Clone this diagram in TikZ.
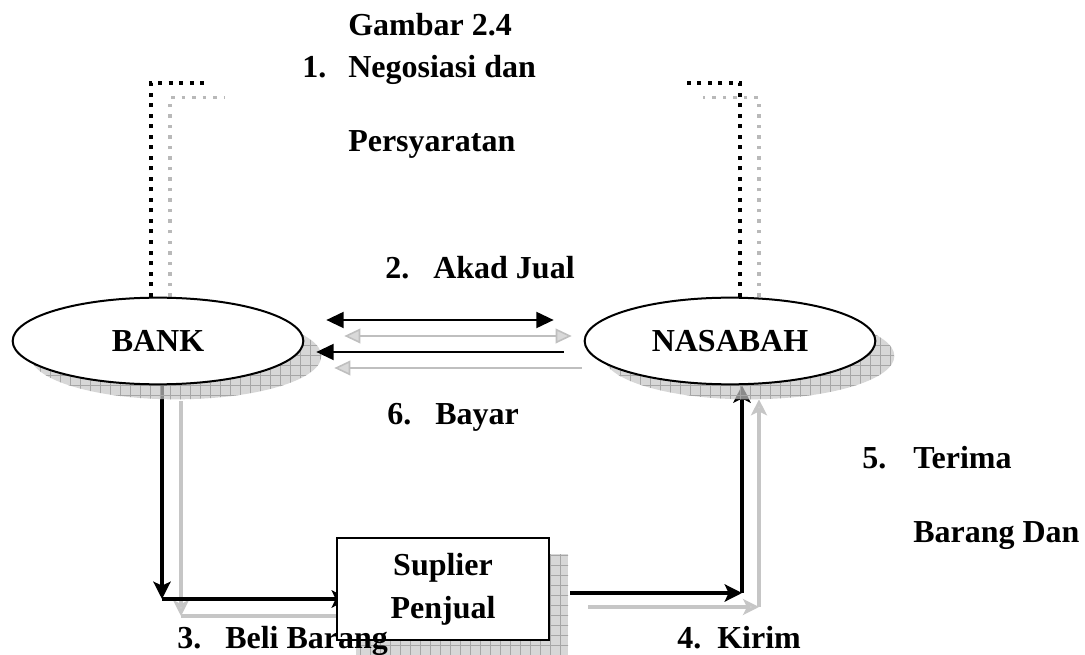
\documentclass[tikz,border=0pt]{standalone}
\usepackage{fontspec}
\setmainfont{Liberation Serif}
\usetikzlibrary{shapes.geometric,arrows.meta,patterns.meta,backgrounds}

\newcommand{\numitem}[3]{\makebox[#1][l]{#2}#3}

\begin{document}
\begin{tikzpicture}[
        x=0.75pt, y=-0.75pt,
        font=\fontsize{24}{32}\selectfont\bfseries,
        oval/.style={ellipse, draw, line width=1.5pt, fill=white, minimum width=218pt, minimum height=65pt, inner sep=0pt},
        box/.style={rectangle, draw, line width=1.5pt, fill=white, minimum width=159pt, minimum height=76.5pt, align=center, inner sep=0pt},
        dropfill/.style={draw=none, fill=gray!45, fill opacity=0.7,
            postaction={pattern={Lines[distance=7.5pt,angle=0,line width=.3pt]}, pattern color=gray!70},
            postaction={pattern={Lines[distance=7.5pt,angle=90,line width=.3pt]}, pattern color=gray!70}},
        heavy/.style={line width=3pt, -{Stealth[length=13pt,width=13pt,inset=3pt]}},
        light/.style={line width=3pt, gray!45, -{Stealth[length=12pt,width=12pt,inset=3pt,fill=gray!35]}},
        twoway/.style={line width=1.5pt, {Triangle[length=13pt,width=12pt]}-{Triangle[length=13pt,width=12pt]}},
        twowaygrey/.style={line width=1.2pt, gray!50, {Triangle[length=12pt,width=11pt,fill=gray!30]}-{Triangle[length=12pt,width=11pt,fill=gray!30]}},
        back/.style={line width=1.5pt, -{Triangle[length=13pt,width=12pt]}},
        backgrey/.style={line width=1.2pt, gray!50, -{Triangle[length=12pt,width=11pt,fill=gray!30]}},
        dots/.style={line width=3pt, dash pattern=on 3pt off 4.9pt},
        greydots/.style={line width=2.6pt, gray!55, dash pattern=on 2.6pt off 5.3pt},
        item/.style={anchor=base west, inner sep=0pt}
    ]
        \useasboundingbox (0,0) rectangle (1085,655);

        % Parties
        \node[oval] (bank) at (158,341) {BANK};
        \node[oval] (nasabah) at (730,341) {NASABAH};
        \node[box] (supplier) at (443,589) {Suplier\\Penjual};

        % Labels
        \node[item] (title) at (348,36) {Gambar 2.4};
        \node[item] (lbl1) at (302,78) {\numitem{34.5pt}{1.}{Negosiasi dan}};
        \node[item] (lbl1b) at (348,152) {Persyaratan};
        \node[item] (lbl2) at (385,279) {\numitem{36pt}{2.}{Akad Jual}};
        \node[item] (lbl6) at (387,425) {\numitem{36pt}{6.}{Bayar}};
        \node[item] (lbl5) at (862,469) {\numitem{38.25pt}{5.}{Terima}};
        \node[item] (lbl5b) at (913,542) {Barang Dan};
        \node[item] (lbl3) at (177,648) {\numitem{36pt}{3.}{Beli Barang}};
        \node[item] (lbl4) at (677,648) {\numitem{30pt}{4.}{Kirim}};

        % Corners
        \coordinate (lcorner) at (162,599);
        \coordinate (lgcorner) at (181,616);
        \coordinate (rcorner) at (742,593);
        \coordinate (rgcorner) at (759,607);

        \begin{scope}[on background layer]
            % Negotiation (dotted)
            \draw[dots] ([xshift=-5.25pt]bank.north) -- ++(0,-214) -- ++(56,0);
            \draw[greydots] ([xshift=9pt]bank.north) -- ++(0,-199) -- ++(55,0);
            \draw[dots] ([xshift=7.5pt]nasabah.north) -- ++(0,-214) -- ++(-55,0);
            \draw[greydots] ([xshift=21.75pt]nasabah.north) -- ++(0,-199) -- ++(-56,0);

            % Buy goods
            \draw[light] ([shift={(23,16)}]bank.south) -- (lgcorner);
            \draw[light] (lgcorner) -- ([shift={(32,27)}]supplier.west);
            \draw[heavy] ([xshift=3pt]bank.south) -- (lcorner);
            \draw[heavy] (lcorner) -- ([shift={(13,10)}]supplier.west);

            % Deliver and receive
            \draw[light] ([shift={(38,18)}]supplier.east) -- (rgcorner);
            \draw[light] (rgcorner) -- ([shift={(29,14)}]nasabah.south);
            \draw[heavy] ([shift={(20,4)}]supplier.east) -- (rcorner);
            \draw[heavy] (rcorner) -- ([xshift=9pt]nasabah.south);

            % Shadows
            \node[oval, dropfill] (bankshade) at ([shift={(18,15)}]bank.center) {};
            \node[oval, dropfill] (nasabahshade) at ([shift={(19,15)}]nasabah.center) {};
            \node[box, dropfill] (suppliershade) at ([shift={(19,16)}]supplier.center) {};
        \end{scope}

        % Contract and payment
        \draw[twoway] ([shift={(22,-21)}]bank.east) -- ([shift={(-30,-21)}]nasabah.west);
        \draw[twowaygrey] ([shift={(40,-5)}]bank.east) -- ([shift={(-12,-5)}]nasabah.west);
        \draw[back] ([shift={(-20,11)}]nasabah.west) -- ([shift={(12,11)}]bank.east);
        \draw[backgrey] ([shift={(-2,27)}]nasabah.west) -- ([shift={(30,27)}]bank.east);
    \end{tikzpicture}
\end{document}
